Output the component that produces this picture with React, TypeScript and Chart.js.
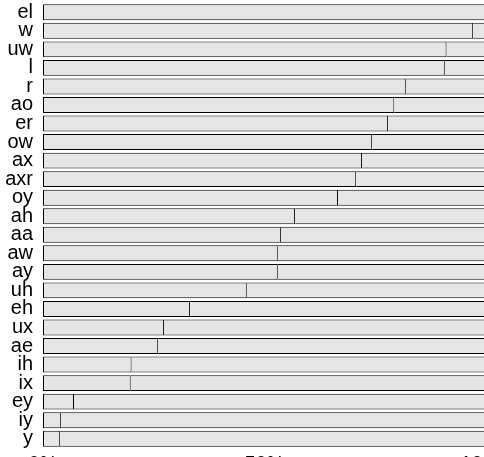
import React, { useEffect, useRef } from "react";
import { Chart, registerables } from "chart.js";

Chart.register(...registerables);

const labels = ["el", "w", "uw", "l", "r", "ao", "er", "ow", "ax", "axr", "oy", "ah", "aa", "aw", "ay", "uh", "eh", "ux", "ae", "ih", "ix", "ey", "iy", "y"];
const firstPart = [100, 97.1, 91.1, 90.7, 81.9, 79.3, 77.9, 74.3, 72.0, 70.7, 66.6, 56.9, 53.7, 53.0, 53.0, 46.0, 33.2, 27.3, 26.0, 20.0, 19.8, 7.0, 4.1, 3.8];
const restPart = [0, 2.9, 8.9, 9.3, 18.1, 20.7, 22.1, 25.7, 28.0, 29.3, 33.4, 43.1, 46.3, 47.0, 47.0, 54.0, 66.8, 72.7, 74.0, 80.0, 80.2, 93.0, 95.9, 96.2];
const xTicks = [0, 50, 100];
const xTickLabels = ["0%", "50%", "100%"];

export default function App() {
  const ref = useRef<HTMLCanvasElement | null>(null);
  useEffect(() => {
    if (!ref.current) return;
    const font = { family: "'Liberation Sans', Arial, sans-serif", size: 20 };
    const chart = new Chart(ref.current, {
      type: "bar",
      data: {
        labels,
        datasets: [
          {
            data: firstPart,
            backgroundColor: "#e5e5e5",
            borderColor: "#000000",
            borderWidth: 1,
            borderSkipped: false,
            barPercentage: 0.86,
            categoryPercentage: 1,
          },
          {
            data: restPart,
            backgroundColor: "#e5e5e5",
            borderColor: "#000000",
            borderWidth: 1,
            borderSkipped: "start",
            barPercentage: 0.86,
            categoryPercentage: 1,
          },
        ],
      },
      options: {
        indexAxis: "y",
        animation: false,
        responsive: true,
        maintainAspectRatio: false,
        layout: { padding: { top: 3, right: 0, bottom: 0, left: 0 } },
        plugins: { legend: { display: false }, tooltip: { enabled: false } },
        scales: {
          x: {
            stacked: true,
            min: 0,
            max: 100,
            grid: { display: false, drawTicks: false },
            border: { display: false },
            afterBuildTicks: (scale: any) => {
              scale.ticks = xTicks.map((v) => ({ value: v }));
            },
            afterFit: (scale: any) => {
              scale.paddingLeft = 0;
              scale.paddingRight = 0;
            },
            ticks: {
              autoSkip: false,
              maxRotation: 0,
              padding: 4,
              color: "#000",
              font,
              callback: (v: any) => xTickLabels[xTicks.indexOf(Number(v))] ?? "",
            },
          },
          y: {
            stacked: true,
            grid: { display: false, drawTicks: false },
            border: { display: false },
            afterFit: (scale: any) => {
              scale.width = 43;
              scale.paddingTop = 0;
              scale.paddingBottom = 0;
            },
            ticks: { autoSkip: false, padding: 10, color: "#000", font },
          },
        },
      },
    });
    return () => chart.destroy();
  }, []);
  return (
    <div style={{ position: "absolute", left: 0, top: 0, width: 484, height: 457, overflow: "hidden" }}>
      <div style={{ position: "absolute", left: 0, top: 0, width: 486, height: 480 }}>
        <canvas ref={ref} />
      </div>
    </div>
  );
}
